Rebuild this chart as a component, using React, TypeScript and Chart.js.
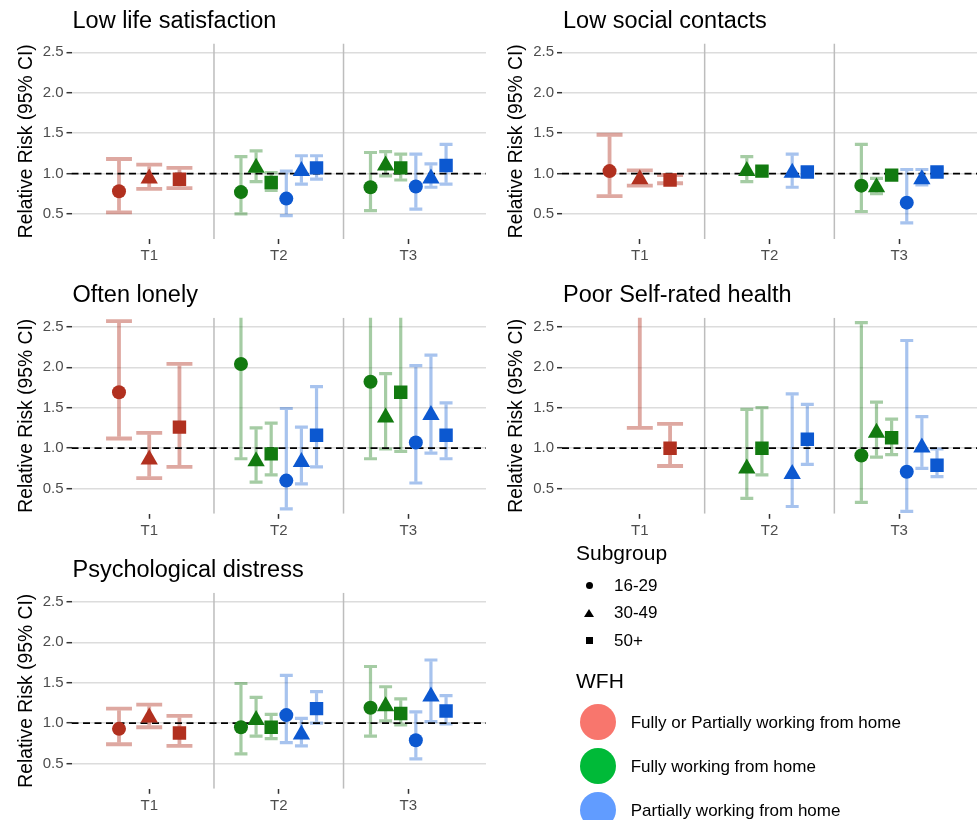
import React, { useEffect, useRef } from "react";
import { Chart, registerables } from "chart.js";

Chart.register(...registerables);

const FONT = '"Liberation Sans", Arial, Helvetica, sans-serif';

// ---------- categories ----------
const timepoints = ["T1", "T2", "T3"];
const subgroups = ["16-29", "30-49", "50+"];
const wfhGroups = [
  "Fully or Partially working from home",
  "Fully working from home",
  "Partially working from home",
];
const yTickValues = [0.5, 1.0, 1.5, 2.0, 2.5];
const yLimits = [0.19, 2.61];
const referenceRR = 1.0;
const yAxisTitle = "Relative Risk (95% CI)";

// each estimate row: timepoint index, WFH group index, subgroup index
const rowTime = [0, 0, 0, 1, 1, 1, 1, 1, 1, 2, 2, 2, 2, 2, 2];
const rowWfh = [0, 0, 0, 1, 1, 1, 2, 2, 2, 1, 1, 1, 2, 2, 2];
const rowSub = [0, 1, 2, 0, 1, 2, 0, 1, 2, 0, 1, 2, 0, 1, 2];

// ---------- values ----------
const lifeSatEst = [0.78, 0.94, 0.93, 0.77, 1.07, 0.89, 0.69, 1.03, 1.07, 0.83, 1.10, 1.07, 0.84, 0.94, 1.10];
const lifeSatLo = [0.52, 0.81, 0.82, 0.50, 0.90, 0.79, 0.48, 0.87, 0.93, 0.54, 0.97, 0.92, 0.56, 0.83, 0.87];
const lifeSatHi = [1.18, 1.11, 1.07, 1.21, 1.28, 1.01, 1.03, 1.22, 1.22, 1.26, 1.27, 1.24, 1.24, 1.12, 1.36];

const socialEst = [1.03, 0.93, 0.92, null, 1.03, 1.03, null, 1.01, 1.02, 0.85, 0.83, 0.98, 0.64, 0.93, 1.02];
const socialLo = [0.72, 0.85, 0.88, null, 0.90, 0.98, null, 0.83, 0.97, 0.53, 0.75, 0.95, 0.39, 0.86, 0.98];
const socialHi = [1.48, 1.04, 0.98, null, 1.21, 1.08, null, 1.24, 1.07, 1.36, 0.94, 1.02, 1.05, 1.05, 1.06];

const lonelyEst = [1.69, 0.86, 1.26, 2.04, 0.84, 0.93, 0.60, 0.83, 1.16, 1.82, 1.38, 1.69, 1.07, 1.41, 1.16];
const lonelyLo = [1.12, 0.63, 0.77, 0.87, 0.58, 0.67, 0.25, 0.56, 0.77, 0.87, 0.99, 0.96, 0.57, 0.94, 0.87];
const lonelyHi = [2.57, 1.19, 2.04, 4.8, 1.25, 1.31, 1.49, 1.26, 1.76, 3.9, 1.92, 3.2, 2.02, 2.15, 1.56];

const healthEst = [null, 2.9, 1.0, null, 0.75, 1.0, null, 0.68, 1.11, 0.91, 1.19, 1.13, 0.71, 1.01, 0.79];
const healthLo = [null, 1.25, 0.78, null, 0.38, 0.67, null, 0.28, 0.8, 0.33, 0.89, 0.92, 0.22, 0.75, 0.65];
const healthHi = [null, 6.5, 1.3, null, 1.48, 1.5, null, 1.67, 1.54, 2.55, 1.57, 1.36, 2.33, 1.39, 0.99];

const distressEst = [0.93, 1.07, 0.88, 0.95, 1.04, 0.95, 1.10, 0.86, 1.18, 1.19, 1.21, 1.12, 0.79, 1.33, 1.15];
const distressLo = [0.74, 0.95, 0.72, 0.62, 0.84, 0.81, 0.76, 0.72, 1.0, 0.84, 1.03, 0.98, 0.56, 1.02, 0.99];
const distressHi = [1.18, 1.23, 1.09, 1.49, 1.32, 1.11, 1.59, 1.06, 1.39, 1.70, 1.45, 1.30, 1.14, 1.78, 1.34];

const outcomeTitles = [
  "Low life satisfaction",
  "Low social contacts",
  "Often lonely",
  "Poor Self-rated health",
  "Psychological distress",
];
const outcomeEst = [lifeSatEst, socialEst, lonelyEst, healthEst, distressEst];
const outcomeLo = [lifeSatLo, socialLo, lonelyLo, healthLo, distressLo];
const outcomeHi = [lifeSatHi, socialHi, lonelyHi, healthHi, distressHi];

// ---------- styles ----------
const wfhPointColors = ["#b1301f", "#127a10", "#0c58d0"];
const wfhBarColors = ["rgba(177,48,31,0.42)", "rgba(18,122,16,0.38)", "rgba(12,88,208,0.36)"];
const wfhBarWidths = [3.8, 3.2, 3.2];
const wfhLegendColors = ["#F8766D", "#00BA38", "#619CFF"];
const subgroupShapes = ["circle", "triangle", "rect"];
const subgroupRadius = [7, 10, 9.5];
const DODGE_WIDTH = 0.7;
const CAP_WIDTH = 0.6;

// panel plot rectangles (page px)
const colLeft = [71.5, 562];
const colRight = [486, 977];
const rowTop = [43.4, 317.8, 592.8];
const rowBottom = [239, 513.8, 788.8];
const panelCell = [
  [0, 0],
  [0, 1],
  [1, 0],
  [1, 1],
  [2, 0],
];

function groupsAt(t: number): number[] {
  const ws: number[] = [];
  rowTime.forEach((tt, i) => {
    if (tt === t && !ws.includes(rowWfh[i])) ws.push(rowWfh[i]);
  });
  return ws.sort((a, b) => a - b);
}

function dodge(i: number) {
  const ws = groupsAt(rowTime[i]);
  const n = ws.length * subgroups.length;
  const slot = ws.indexOf(rowWfh[i]) * subgroups.length + rowSub[i];
  const step = DODGE_WIDTH / n;
  return { x: rowTime[i] + 1 + (slot - (n - 1) / 2) * step, cap: CAP_WIDTH / n };
}

const errorBarPlugin = {
  id: "errBars",
  beforeDatasetsDraw(chart: any, _args: any, opts: any) {
    const { ctx, chartArea, scales } = chart;
    const xs = scales.x;
    const ys = scales.y;
    const k = opts.outcome as number;
    ctx.save();
    ctx.beginPath();
    ctx.rect(chartArea.left, chartArea.top, chartArea.right - chartArea.left, chartArea.bottom - chartArea.top);
    ctx.clip();
    // facet-like separators between timepoints
    ctx.strokeStyle = "#bdbdbd";
    ctx.lineWidth = 1.5;
    for (let t = 1; t < timepoints.length; t++) {
      const px = xs.getPixelForValue(t + 0.5);
      ctx.beginPath();
      ctx.moveTo(px, chartArea.top);
      ctx.lineTo(px, chartArea.bottom);
      ctx.stroke();
    }
    const lo = outcomeLo[k];
    const hi = outcomeHi[k];
    for (let i = 0; i < rowTime.length; i++) {
      if (lo[i] == null || hi[i] == null) continue;
      const d = dodge(i);
      const px = xs.getPixelForValue(d.x);
      const x0 = xs.getPixelForValue(d.x - d.cap / 2);
      const x1 = xs.getPixelForValue(d.x + d.cap / 2);
      const yl = ys.getPixelForValue(lo[i] as number);
      const yh = ys.getPixelForValue(hi[i] as number);
      ctx.strokeStyle = wfhBarColors[rowWfh[i]];
      ctx.lineWidth = wfhBarWidths[rowWfh[i]];
      ctx.lineCap = "butt";
      ctx.beginPath();
      ctx.moveTo(x0, yh);
      ctx.lineTo(x1, yh);
      ctx.moveTo(x0, yl);
      ctx.lineTo(x1, yl);
      ctx.stroke();
      const hw = wfhBarWidths[rowWfh[i]] / 2;
      ctx.beginPath();
      ctx.moveTo(px, yh + hw);
      ctx.lineTo(px, yl - hw);
      ctx.stroke();
    }
    ctx.restore();
  },
};

const panelTextPlugin = {
  id: "panelText",
  afterDraw(chart: any, _args: any, opts: any) {
    const { ctx, chartArea } = chart;
    ctx.save();
    ctx.fillStyle = "#000";
    ctx.textAlign = "left";
    ctx.textBaseline = "middle";
    ctx.font = `23.5px ${FONT}`;
    ctx.fillText(opts.title, chartArea.left + 1, chartArea.top - 22);
    ctx.translate(27, (chartArea.top + chartArea.bottom) / 2);
    ctx.rotate(-Math.PI / 2);
    ctx.textAlign = "center";
    ctx.font = `19.3px ${FONT}`;
    ctx.fillText(yAxisTitle, 0, 0);
    ctx.restore();
  },
};

function Panel({ k }: { k: number }) {
  const ref = useRef<HTMLCanvasElement>(null);
  const [r, c] = panelCell[k];
  const canvasLeft = c === 0 ? 0 : 490;
  const canvasWidth = c === 0 ? 490 : 489;
  const canvasTop = Math.floor(rowTop[r] - 43);
  const canvasBottom = Math.ceil(rowBottom[r] + 31);
  const canvasHeight = canvasBottom - canvasTop;
  const padTop = rowTop[r] - canvasTop;
  const padRight = canvasLeft + canvasWidth - colRight[c];
  const yAxisW = colLeft[c] - canvasLeft;
  const xAxisH = canvasBottom - rowBottom[r];

  useEffect(() => {
    const est = outcomeEst[k];
    const datasets: any[] = [];
    datasets.push({
      type: "line",
      data: [
        { x: 0.4, y: referenceRR },
        { x: 3.6, y: referenceRR },
      ],
      borderColor: "#000",
      borderWidth: 1.8,
      borderDash: [7, 4.5],
      pointRadius: 0,
      order: 10,
      clip: 0,
    });
    wfhGroups.forEach((_, w) => {
      subgroups.forEach((__, s) => {
        const pts: any[] = [];
        for (let i = 0; i < rowTime.length; i++) {
          if (rowWfh[i] === w && rowSub[i] === s && est[i] != null) {
            pts.push({ x: dodge(i).x, y: est[i] });
          }
        }
        if (!pts.length) return;
        datasets.push({
          type: "scatter",
          data: pts,
          pointStyle: subgroupShapes[s],
          pointRadius: subgroupRadius[s],
          pointBackgroundColor: wfhPointColors[w],
          pointBorderWidth: 0,
          pointBorderColor: wfhPointColors[w],
          showLine: false,
          order: 1,
          clip: 0,
        });
      });
    });

    const chart = new Chart(ref.current as HTMLCanvasElement, {
      type: "scatter",
      data: { datasets },
      plugins: [errorBarPlugin, panelTextPlugin],
      options: {
        animation: false,
        responsive: false,
        devicePixelRatio: 1,
        events: [],
        layout: { autoPadding: false, padding: { top: padTop, right: padRight, left: 0, bottom: 0 } },
        plugins: {
          legend: { display: false },
          tooltip: { enabled: false },
          // @ts-ignore
          errBars: { outcome: k },
          // @ts-ignore
          panelText: { title: outcomeTitles[k] },
        },
        scales: {
          x: {
            type: "linear",
            min: 0.4,
            max: 3.6,
            afterBuildTicks: (s: any) => {
              s.ticks = timepoints.map((_, i) => ({ value: i + 1 }));
            },
            afterFit: (s: any) => {
              s.height = xAxisH;
              s.paddingLeft = 0;
              s.paddingRight = 0;
              s.paddingTop = 0;
              s.paddingBottom = 0;
            },
            ticks: {
              callback: (v: any) => timepoints[Math.round(Number(v)) - 1],
              color: "#4d4d4d",
              font: { family: FONT, size: 15 },
              padding: 3,
              maxRotation: 0,
              autoSkip: false,
            },
            grid: {
              drawOnChartArea: false,
              drawTicks: true,
              tickLength: 5,
              tickColor: "#333",
              tickWidth: 1.5,
            },
            border: { display: false },
          },
          y: {
            type: "linear",
            min: yLimits[0],
            max: yLimits[1],
            afterBuildTicks: (s: any) => {
              s.ticks = yTickValues.map((v) => ({ value: v }));
            },
            afterFit: (s: any) => {
              s.width = yAxisW;
              s.paddingLeft = 0;
              s.paddingRight = 0;
              s.paddingTop = 0;
              s.paddingBottom = 0;
            },
            ticks: {
              callback: (v: any) => Number(v).toFixed(1),
              color: "#4d4d4d",
              font: { family: FONT, size: 15 },
              padding: 3,
              autoSkip: false,
            },
            grid: {
              color: "#dcdcdc",
              lineWidth: 1.4,
              drawTicks: true,
              tickLength: 5,
              tickColor: "#333",
              tickWidth: 1.5,
            },
            border: { display: false },
          },
        },
      } as any,
    });
    return () => chart.destroy();
  }, []);

  return (
    <canvas
      ref={ref}
      width={canvasWidth}
      height={canvasHeight}
      style={{
        position: "absolute",
        left: canvasLeft,
        top: canvasTop,
        width: canvasWidth,
        height: canvasHeight,
      }}
    />
  );
}

function txt(text: string, left: number, centerY: number, size: number) {
  return (
    <div
      key={text}
      style={{
        position: "absolute",
        left,
        top: centerY - 0.4885 * size,
        fontFamily: FONT,
        fontSize: size,
        lineHeight: "1",
        color: "#000",
        whiteSpace: "nowrap",
      }}
    >
      {text}
    </div>
  );
}

function Legend() {
  const subY = [585.7, 612.7, 640.7];
  const wfhY = [722, 766, 810];
  return (
    <>
      {txt("Subgroup", 576, 552.5, 21)}
      {subgroups.map((s, i) => txt(s, 614, subY[i], 17))}
      <div style={{ position: "absolute", left: 585.8, top: subY[0] - 3.5, width: 7, height: 7, borderRadius: "50%", background: "#000" }} />
      <div
        style={{
          position: "absolute",
          left: 584.3,
          top: subY[1] - 4,
          width: 0,
          height: 0,
          borderLeft: "5px solid transparent",
          borderRight: "5px solid transparent",
          borderBottom: "8px solid #000",
        }}
      />
      <div style={{ position: "absolute", left: 585.6, top: subY[2] - 3.6, width: 7.3, height: 7.3, background: "#000" }} />
      {txt("WFH", 576, 680, 21)}
      {wfhGroups.map((g, i) => (
        <div
          key={"c" + i}
          style={{
            position: "absolute",
            left: 597.7 - 18,
            top: wfhY[i] - 18,
            width: 36,
            height: 36,
            borderRadius: "50%",
            background: wfhLegendColors[i],
          }}
        />
      ))}
      {wfhGroups.map((g, i) => txt(g, 630.7, wfhY[i], 17))}
    </>
  );
}

export default function App() {
  return (
    <div
      style={{
        position: "absolute",
        left: 0,
        top: 0,
        width: 979,
        height: 820,
        overflow: "hidden",
        background: "#fff",
      }}
    >
      {outcomeTitles.map((_, k) => (
        <Panel key={k} k={k} />
      ))}
      <Legend />
    </div>
  );
}
